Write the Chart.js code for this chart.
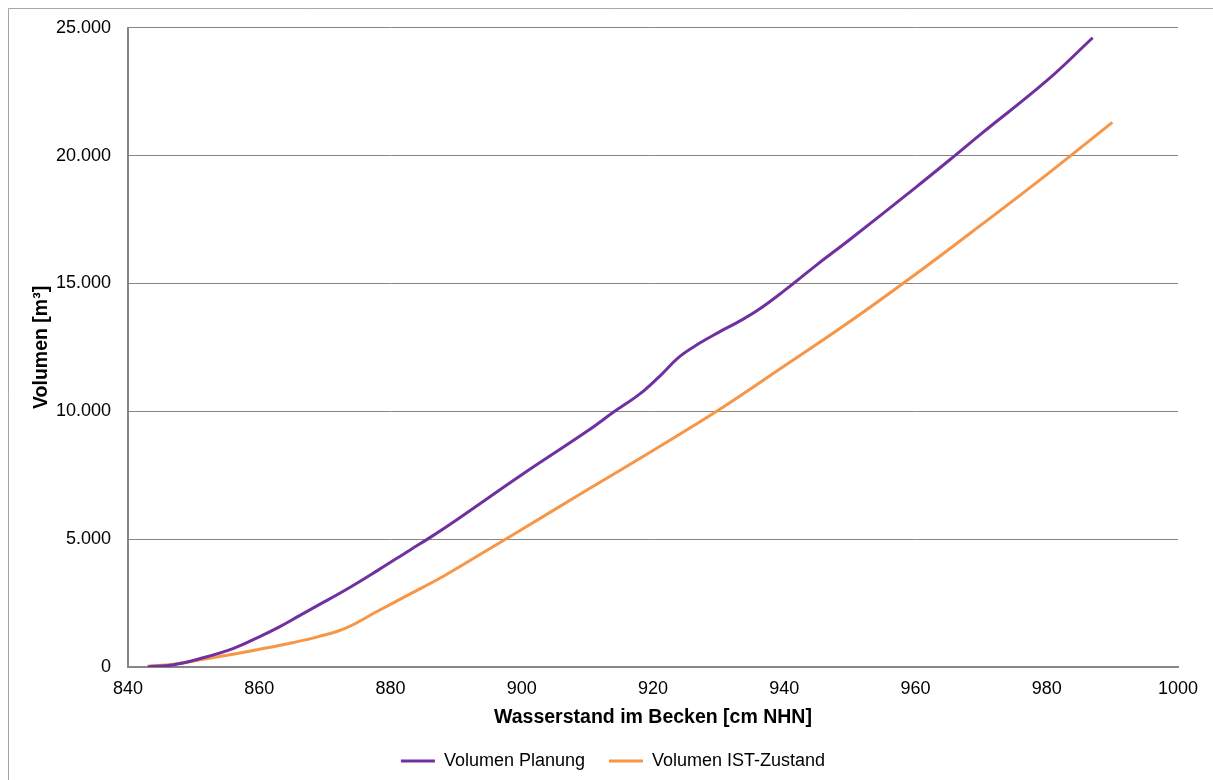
<!DOCTYPE html>
<html lang="de">
<head>
<meta charset="utf-8">
<title>Volumen Becken</title>
<script src="https://cdn.jsdelivr.net/npm/chart.js@4.4.1/dist/chart.umd.min.js"></script>
<style>
    html, body { margin: 0; padding: 0; background: #fff; }
    #wrap { width: 1213px; height: 780px; }
</style>
</head>
<body>
<div id="wrap"><canvas id="volChart" width="1213" height="780"></canvas></div>
<script>
// Wasserstand [cm NHN] -> Volumen [m³]
const levelPlanung = [843, 847, 851, 856, 860, 863, 866, 869, 873, 878, 883, 886, 890, 900, 910, 914, 918, 921, 924, 927, 930, 933, 936, 940, 945, 950, 960, 966, 970, 980, 987];
const volPlanung = [0, 90, 330, 720, 1180, 1560, 1990, 2420, 2990, 3770, 4580, 5060, 5740, 7520, 9230, 9970, 10680, 11370, 12130, 12650, 13090, 13500, 13960, 14720, 15740, 16720, 18750, 20000, 20850, 22930, 24610];

const levelIst = [843, 847, 851, 856, 861, 865, 869, 873, 878, 883, 888, 893, 900, 910, 920, 930, 940, 950, 960, 970, 980, 990];
const volIst = [30, 110, 280, 500, 740, 950, 1190, 1500, 2180, 2860, 3540, 4300, 5380, 6930, 8470, 10050, 11770, 13510, 15360, 17290, 19260, 21300];

const xTicks = [840, 860, 880, 900, 920, 940, 960, 980, 1000];
const yTicks = [0, 5000, 10000, 15000, 20000, 25000];

const seriesNames = ["Volumen Planung", "Volumen IST-Zustand"];
const seriesColors = ["#7030a0", "#f79646"];

const fontFamily = "'Liberation Sans', Arial, sans-serif";
const gridGray = "#868686";

function fmtDe(v) {
    return String(v).replace(/\B(?=(\d{3})+(?!\d))/g, ".");
}

function toPoints(xs, ys) {
    return xs.map((x, i) => ({ x: x, y: ys[i] }));
}

// light gray frame around the whole chart (runs off right/bottom edge)
const frameBorder = {
    id: "frameBorder",
    beforeDraw(chart) {
        const ctx = chart.ctx;
        ctx.save();
        ctx.strokeStyle = "#a6a6a6";
        ctx.lineWidth = 1;
        ctx.beginPath();
        ctx.moveTo(8.5, chart.height);
        ctx.lineTo(8.5, 8.5);
        ctx.lineTo(chart.width, 8.5);
        ctx.stroke();
        ctx.restore();
    }
};

const ctx = document.getElementById("volChart").getContext("2d");

new Chart(ctx, {
    type: "line",
    data: {
        datasets: [
            {
                label: seriesNames[0],
                data: toPoints(levelPlanung, volPlanung),
                borderColor: seriesColors[0],
                backgroundColor: seriesColors[0],
                borderWidth: 3,
                pointRadius: 0,
                tension: 0.4,
            },
            {
                label: seriesNames[1],
                data: toPoints(levelIst, volIst),
                borderColor: seriesColors[1],
                backgroundColor: seriesColors[1],
                borderWidth: 3,
                pointRadius: 0,
                tension: 0.4,
            },
        ],
    },
    options: {
        responsive: false,
        animation: false,
        devicePixelRatio: 1,
        layout: {
            padding: { top: 27, right: 35, bottom: 0, left: 48 },
        },
        plugins: {
            tooltip: { enabled: false },
            legend: {
                position: "bottom",
                labels: {
                    color: "#000",
                    font: { family: fontFamily, size: 18 },
                    boxWidth: 34,
                    boxHeight: 0,
                    padding: 24,
                },
            },
        },
        scales: {
            x: {
                type: "linear",
                min: 840,
                max: 1000,
                afterBuildTicks: scale => {
                    scale.ticks = xTicks.map(v => ({ value: v }));
                },
                afterFit: scale => {
                    scale.height = 61;
                },
                grid: { display: false, drawTicks: false },
                border: { display: true, color: gridGray, width: 2 },
                ticks: {
                    color: "#000",
                    padding: 11,
                    font: { family: fontFamily, size: 18 },
                    callback: value => String(value),
                },
                title: {
                    display: true,
                    text: "Wasserstand im Becken [cm NHN]",
                    color: "#000",
                    font: { family: fontFamily, size: 19.5, weight: "bold", lineHeight: 1 },
                    padding: { top: 0, bottom: 1 },
                },
            },
            y: {
                min: 0,
                max: 25000,
                afterBuildTicks: scale => {
                    scale.ticks = yTicks.map(v => ({ value: v }));
                },
                afterFit: scale => {
                    scale.width = 80;
                },
                grid: { color: gridGray, lineWidth: 1, drawTicks: false },
                border: { display: true, color: gridGray, width: 2 },
                ticks: {
                    color: "#000",
                    padding: 17,
                    font: { family: fontFamily, size: 18 },
                    callback: value => fmtDe(value),
                },
                title: {
                    display: true,
                    text: "Volumen [m³]",
                    color: "#000",
                    font: { family: fontFamily, size: 19.5, weight: "bold", lineHeight: 1 },
                    padding: { top: -16, bottom: 0 },
                },
            },
        },
    },
    plugins: [frameBorder],
});
</script>
</body>
</html>
